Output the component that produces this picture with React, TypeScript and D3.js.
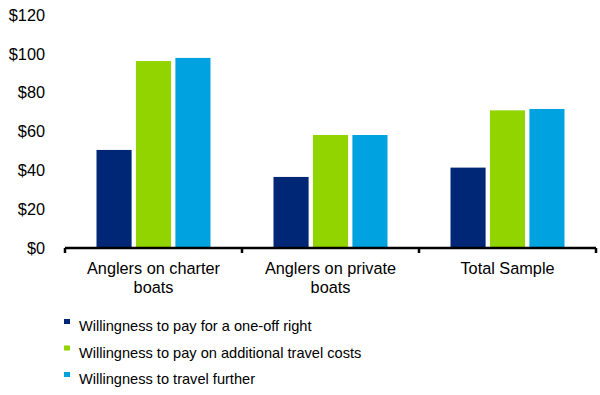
import * as d3 from "d3";

const categories = ["Anglers on charter boats", "Anglers on private boats", "Total Sample"];
const categoryLines = [["Anglers on charter", "boats"], ["Anglers on private", "boats"], ["Total Sample"]];
const seriesNames = [
  "Willingness to pay for a one-off right",
  "Willingness to pay on additional travel costs",
  "Willingness to travel further",
];
const oneOffRight = [50.5, 36.6, 41.4];
const travelCosts = [96.3, 58.2, 70.9];
const travelFurther = [97.9, 58.2, 71.6];
const yTicks = [0, 20, 40, 60, 80, 100, 120];
const colors = ["#002776", "#92d400", "#00a3e0"];

const W = 600;
const H = 395;
const font = "'Liberation Sans', Arial, sans-serif";

export default function App() {
  const series = [oneOffRight, travelCosts, travelFurther];

  const x0 = d3.scaleBand<string>().domain(categories).range([65, 596]);
  const groupW = 114;
  const x1 = d3
    .scaleBand<number>()
    .domain([0, 1, 2])
    .range([0, groupW])
    .paddingInner(0.11);
  const y = d3.scaleLinear().domain([0, 120]).range([248, 15]);

  const offset = (x0.bandwidth() - groupW) / 2;
  const tickXs = [...categories.map((c) => x0(c) as number), x0.range()[1]];

  return (
    <svg
      width={W}
      height={H}
      style={{ position: "absolute", left: 0, top: 0, background: "#fff" }}
      fontFamily={font}
    >
      {/* y labels */}
      {yTicks.map((t) => (
        <text
          key={t}
          x={45}
          y={y(t)}
          dy="0.35em"
          textAnchor="end"
          fontSize={16.3}
          fill="#000"
        >
          {`$${t}`}
        </text>
      ))}

      {/* bars */}
      {categories.map((c, ci) => (
        <g key={c} transform={`translate(${(x0(c) as number) + offset},0)`}>
          {series.map((s, si) => (
            <rect
              key={si}
              x={x1(si)}
              y={y(s[ci])}
              width={x1.bandwidth()}
              height={y(0) - y(s[ci])}
              fill={colors[si]}
            />
          ))}
        </g>
      ))}

      {/* x axis */}
      <line
        x1={x0.range()[0]}
        x2={x0.range()[1]}
        y1={y(0)}
        y2={y(0)}
        stroke="#000"
        strokeWidth={2.5}
      />
      {tickXs.map((tx, i) => (
        <line
          key={i}
          x1={tx}
          x2={tx}
          y1={y(0)}
          y2={y(0) + 5}
          stroke="#000"
          strokeWidth={2.5}
        />
      ))}

      {/* category labels */}
      {categories.map((c, ci) => (
        <text
          key={c}
          x={(x0(c) as number) + x0.bandwidth() / 2}
          textAnchor="middle"
          fontSize={16.3}
          fill="#000"
        >
          {categoryLines[ci].map((line, li) => (
            <tspan key={li} x={(x0(c) as number) + x0.bandwidth() / 2} y={274 + li * 19}>
              {line}
            </tspan>
          ))}
        </text>
      ))}

      {/* legend */}
      {seriesNames.map((name, i) => {
        const by = 331 + i * 26.5;
        return (
          <g key={name}>
            <rect x={64} y={by - 12} width={6} height={5} fill={colors[i]} />
            <text x={79} y={by} fontSize={14.6} fill="#000">
              {name}
            </text>
          </g>
        );
      })}
    </svg>
  );
}
